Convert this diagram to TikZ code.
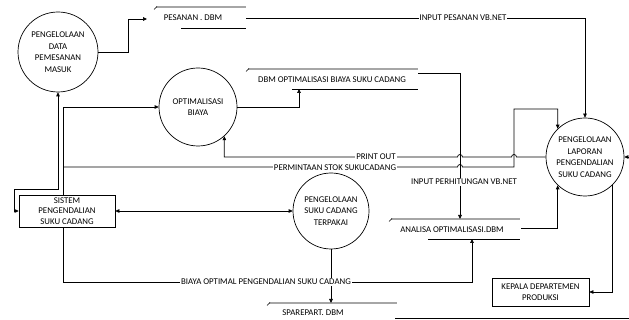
\documentclass[tikz,border=0pt]{standalone}
\usepackage{fontspec}
\setmainfont{Carlito}
\usetikzlibrary{arrows.meta}
\begin{document}
\begin{tikzpicture}[x=1pt,y=-1pt,line width=0.7pt,
  >={Triangle[length=4pt,width=3.6pt]},
  txt/.style={font=\fontsize{8.8}{11.5}\selectfont,inner sep=0pt,align=center},
  proc/.style={txt,circle,draw,minimum size=78pt},
  ent/.style={txt,draw,rectangle,font=\fontsize{8.8}{10.8}\selectfont},
  lbl/.style={txt,fill=white,inner sep=1pt},
  stop/.style={double=gray!70,double distance=1.1pt,line width=0.5pt},
  sbot/.style={line width=0.7pt}]
\useasboundingbox (0,0) rectangle (629,320);
\fill[white] (0,0) rectangle (629,320);

% processes
\node[proc,minimum size=80pt] (dat) at (58,52) {PENGELOLAAN\\DATA\\PEMESANAN\\MASUK};
\node[proc] (opt) at (198,107) {OPTIMALISASI\\BIAYA};
\node[proc] (lap) at (585,157) {PENGELOLAAN\\LAPORAN\\PENGENDALIAN\\SUKU CADANG};
\node[proc,minimum size=76pt] (ter) at (331,211) {PENGELOLAAN\\SUKU CADANG\\TERPAKAI};

% entities
\node[ent,minimum width=96pt,minimum height=32pt] (sis) at (67,211) {SISTEM\\PENGENDALIAN\\SUKU CADANG};
\node[ent,minimum width=97pt,minimum height=28pt] (kep) at (540.5,292) {KEPALA DEPARTEMEN\\PRODUKSI};

% data stores
\node[txt] (pes) at (193,17.5) {PESANAN . DBM};
\draw[stop] (156,7) -- (246,7);
\draw[line width=0.5pt] (157,6.5) -- (154,9.5);
\draw[sbot] (181,28) -- (246,28);

\node[txt] (dbo) at (332,80) {DBM OPTIMALISASI BIAYA SUKU CADANG};
\draw[stop] (248,69) -- (418,69);
\draw[line width=0.5pt] (249,68.5) -- (246,71.5);
\draw[sbot] (292,89) -- (418,89);

\node[txt] (ana) at (452,229.5) {ANALISA OPTIMALISASI.DBM};
\draw[stop] (391,219) -- (520,219);
\draw[line width=0.5pt] (392,218.5) -- (389,221.5);
\draw[sbot] (428,239) -- (520,239);

\node[txt] (spa) at (313,312.5) {SPAREPART. DBM};
\draw[stop] (269,303) -- (397,303);
\draw[line width=0.5pt] (270,302.5) -- (267,305.5);
\draw[sbot] (395,318) -- (629,318);

% free ends
\coordinate (pesin) at (147,19);
\coordinate (pesout) at (246,18);
\coordinate (dboin) at (299,89);
\coordinate (dboout) at (418,73);
\coordinate (anain) at (460,219);
\coordinate (anaout) at (521,228);
\coordinate (anabot) at (472,239);
\coordinate (spain) at (331,303);
\coordinate (jn) at (63,167);
\coordinate (rin) at (629,157);

% connectors
\draw[->] (dat.east) -- ++(30,0) |- (pesin);
\draw[->] (pesout) -| (lap.north);
\draw[->] (opt.east) -| (dboin);
\draw[->] (dboout) -| (anain);
\draw[->] ([xshift=-4pt]sis.north) |- (opt.west);
\draw[->] (jn) -- (457.5,167) arc[start angle=180,end angle=0,radius=2.5pt]
  -- (514,167) -- (514,109) -| (lap.134);
\draw[->] (lap.west) -- (516.5,157) arc[start angle=0,end angle=180,radius=2.5pt]
  -- (462.5,157) arc[start angle=0,end angle=180,radius=2.5pt]
  -- (opt.-48 |- lap.west) -- (opt.-48);
\draw[<->] (dat.south) |- (14,189) |- (sis.west);
\draw[<->] (sis.east) -- (ter.west);
\draw[->] ([xshift=-4pt]sis.south) |- (anabot |- 0,282) -- (anabot);
\draw[->] (ter.south) -- (spain);
\draw[->] (anaout) -| (lap.226);
\draw[->] (lap.-46) |- (kep.east);
\draw[->] (rin) -- (lap.east);

% labels
\node[lbl] at (463,18) {INPUT PESANAN VB.NET};
\node[lbl] at (464,182) {INPUT PERHITUNGAN VB.NET};
\node[lbl] at (376,157) {PRINT OUT};
\node[lbl] at (335,167.5) {PERMINTAAN STOK SUKUCADANG};
\node[lbl] at (266,282) {BIAYA OPTIMAL PENGENDALIAN SUKU CADANG};
\end{tikzpicture}
\end{document}
